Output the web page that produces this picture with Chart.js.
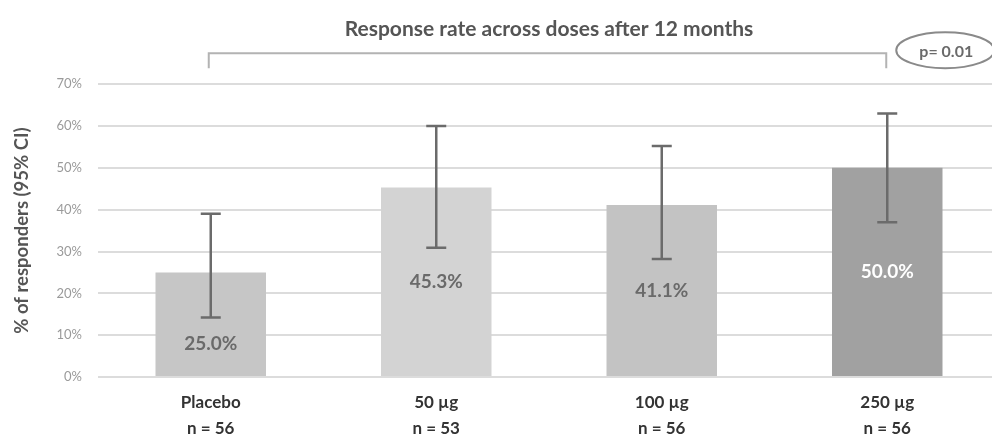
<!DOCTYPE html>
<html>
<head>
<meta charset="utf-8">
<script src="https://cdn.jsdelivr.net/npm/chart.js@4/dist/chart.umd.min.js"></script>
<style>
  html, body { margin: 0; padding: 0; background: #fff; overflow: hidden; }
  #wrap { width: 992px; height: 436px; overflow: hidden; }
  #box { width: 1000px; height: 450px; }
</style>
</head>
<body>
<div id="wrap"><div id="box"><canvas id="doseChart"></canvas></div></div>
<script>
(function () {
  // data
  const doses = ["Placebo", "50 µg", "100 µg", "250 µg"];
  const nCounts = ["n = 56", "n = 53", "n = 56", "n = 56"];
  const responseRate = [25.0, 45.3, 41.1, 50.0];
  const ciLower = [14.2, 30.9, 28.2, 37.0];
  const ciUpper = [39.0, 60.0, 55.2, 63.0];
  const yTicks = [0, 10, 20, 30, 40, 50, 60, 70];
  const pValue = "p= 0.01";

  const barColors = ["#c6c6c6", "#d3d3d3", "#c3c3c3", "#a1a1a1"];
  const labelColors = ["#6a6a6a", "#6a6a6a", "#6a6a6a", "#ffffff"];
  const labelShift = [20, 0, 0, 0]; // placebo label sits below the error bar

  const FONT = "Lato, 'Open Sans', sans-serif";

  // error bars + value labels
  const barExtras = {
    id: "barExtras",
    afterDatasetsDraw(chart) {
      const { ctx } = chart;
      const y = chart.scales.y;
      const meta = chart.getDatasetMeta(0);
      ctx.save();
      meta.data.forEach((bar, i) => {
        const x = bar.x;
        const yLo = y.getPixelForValue(ciLower[i]);
        const yHi = y.getPixelForValue(ciUpper[i]);
        ctx.strokeStyle = "#6b6b6b";
        ctx.lineWidth = 2.5;
        ctx.beginPath();
        ctx.moveTo(x, yLo); ctx.lineTo(x, yHi);
        ctx.moveTo(x - 10, yLo); ctx.lineTo(x + 10, yLo);
        ctx.moveTo(x - 10, yHi); ctx.lineTo(x + 10, yHi);
        ctx.stroke();

        const mid = (bar.y + bar.base) / 2 + labelShift[i];
        ctx.fillStyle = labelColors[i];
        ctx.font = "bold 19px " + FONT;
        ctx.textAlign = "center";
        ctx.textBaseline = "middle";
        ctx.fillText(responseRate[i].toFixed(1) + "%", x, mid);
      });
      ctx.restore();
    }
  };

  // comparison bracket with p-value ellipse
  const bracket = {
    id: "bracket",
    afterDraw(chart) {
      const { ctx, chartArea } = chart;
      const x = chart.scales.x;
      const x0 = x.getPixelForValue(0) - 2;
      const x1 = x.getPixelForValue(3) - 1;
      const top = chartArea.top - 31;
      ctx.save();
      ctx.strokeStyle = "#b3b3b3";
      ctx.lineWidth = 2;
      ctx.beginPath();
      ctx.moveTo(x0, top + 15); ctx.lineTo(x0, top);
      ctx.lineTo(x1, top); ctx.lineTo(x1, top + 15);
      ctx.stroke();

      const cx = x1 + 59, cy = top - 3;
      ctx.strokeStyle = "#8a8a8a";
      ctx.lineWidth = 2;
      ctx.beginPath();
      ctx.ellipse(cx, cy, 49, 18, 0, 0, Math.PI * 2);
      ctx.stroke();
      ctx.fillStyle = "#6a6a6a";
      ctx.font = "bold 16px " + FONT;
      ctx.textAlign = "center";
      ctx.textBaseline = "middle";
      ctx.fillText(pValue, cx + 1, cy + 2);
      ctx.restore();
    }
  };

  const ctx = document.getElementById("doseChart").getContext("2d");
  new Chart(ctx, {
    type: "bar",
    data: {
      labels: doses.map((d, i) => [d, nCounts[i]]),
      datasets: [{
        data: responseRate,
        backgroundColor: barColors,
        borderWidth: 0,
        categoryPercentage: 1,
        barPercentage: 0.49
      }]
    },
    options: {
      responsive: true,
      maintainAspectRatio: false,
      animation: false,
      layout: { padding: { top: 0, left: 0, right: 0, bottom: 0 } },
      plugins: {
        legend: { display: false },
        tooltip: { enabled: false },
        title: {
          display: true,
          fullSize: false,
          text: "Response rate across doses after 12 months",
          color: "#555",
          font: { family: FONT, size: 21, weight: "bold" },
          padding: { top: 17, bottom: 42 }
        }
      },
      scales: {
        x: {
          grid: { display: false, drawTicks: false },
          border: { display: false },
          ticks: {
            color: "#333",
            font: { family: FONT, size: 17, weight: "bold", lineHeight: 1.53 },
            padding: 13
          },
          afterFit(scale) { scale.height = 73; }
        },
        y: {
          min: 0,
          max: 70,
          afterBuildTicks(scale) { scale.ticks = yTicks.map(v => ({ value: v })); },
          grid: { color: "#dcdcdc", lineWidth: 2, drawTicks: false },
          border: { display: false },
          ticks: {
            color: "#9a9a9a",
            font: { family: FONT, size: 13 },
            padding: 16,
            callback: v => v + "%"
          },
          title: {
            display: true,
            text: "% of responders (95% CI)",
            color: "#555",
            font: { family: FONT, size: 18.5, weight: "bold" },
            padding: { top: 11, bottom: 0 }
          },
          afterFit(scale) { scale.width = 98; }
        }
      }
    },
    plugins: [barExtras, bracket]
  });
})();
</script>
</body>
</html>
